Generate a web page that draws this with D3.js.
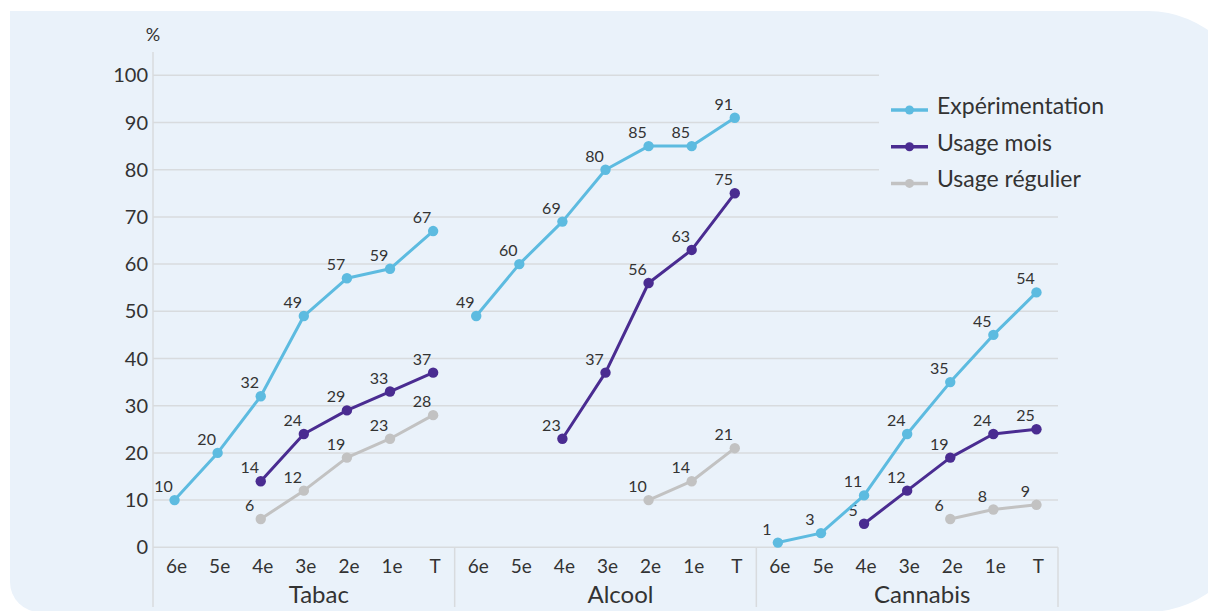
<!DOCTYPE html>
<html lang="fr">
<head>
<meta charset="utf-8">
<script src="https://cdn.jsdelivr.net/npm/d3@7"></script>
<style>
  html, body { margin: 0; padding: 0; background: #ffffff; }
  svg { display: block; font-family: Lato, "Open Sans", "Noto Sans", sans-serif; }
</style>
</head>
<body>
<svg id="chart" width="1208" height="611"></svg>
<script>
// Substances and school grades
const groups = ["Tabac", "Alcool", "Cannabis"];
const grades = ["6e", "5e", "4e", "3e", "2e", "1e", "T"];
const yTicks = [0, 10, 20, 30, 40, 50, 60, 70, 80, 90, 100];

// Percentages per substance (Tabac, Alcool, Cannabis), one value per grade
const experimentation = [
  [10, 20, 32, 49, 57, 59, 67],
  [49, 60, 69, 80, 85, 85, 91],
  [1, 3, 11, 24, 35, 45, 54]
];
const usageMois = [
  [null, null, 14, 24, 29, 33, 37],
  [null, null, 23, 37, 56, 63, 75],
  [null, null, 5, 12, 19, 24, 25]
];
const usageRegulier = [
  [null, null, 6, 12, 19, 23, 28],
  [null, null, null, null, 10, 14, 21],
  [null, null, null, null, 6, 8, 9]
];

const seriesNames = ["Expérimentation", "Usage mois", "Usage régulier"];
const seriesColors = ["#5dbbe0", "#4a2c91", "#c2c2c2"];
const seriesData = [experimentation, usageMois, usageRegulier];

const svg = d3.select("#chart");
const panelFill = "#eaf2fa";
const gridColor = "#d8dbde";
const textColor = "#333333";

// Background panel with rounded corners
const bottom = 612;
svg.append("path")
  .attr("d", `M10,11 H1148 A104,104 0 0 1 1252,115 V${bottom - 104} A104,104 0 0 1 1148,${bottom} H40 A30,30 0 0 1 10,${bottom - 30} Z`)
  .attr("fill", panelFill);

const left = 153, right = 1058, yTop = 75.3, yBottom = 547.3;

const keys = [];
groups.forEach(g => grades.forEach(c => keys.push(g + "|" + c)));
const x = d3.scaleBand().domain(keys).range([left, right]).padding(0);
const cx = k => x(k) + x.bandwidth() / 2;
const y = d3.scaleLinear().domain([0, 100]).range([yBottom, yTop]);

// Horizontal gridlines
svg.append("g").selectAll("line").data(yTicks).join("line")
  .attr("x1", left).attr("x2", right)
  .attr("y1", d => y(d)).attr("y2", d => y(d))
  .attr("stroke", gridColor).attr("stroke-width", 1.5);

// Y axis labels
svg.append("g").selectAll("text").data(yTicks).join("text")
  .attr("x", 148).attr("y", d => y(d) + 7)
  .attr("text-anchor", "end")
  .attr("font-size", 20).attr("fill", textColor)
  .text(d => d);

svg.append("text")
  .attr("x", 153).attr("y", 41)
  .attr("text-anchor", "middle")
  .attr("font-size", 18).attr("fill", textColor)
  .text("%");

// Y axis line and group separators
svg.append("line")
  .attr("x1", left).attr("x2", left).attr("y1", 52).attr("y2", 607)
  .attr("stroke", gridColor).attr("stroke-width", 1.5);
const seps = groups.map((g, i) => i === 0 ? null : x(g + "|" + grades[0])).filter(v => v != null);
seps.push(right);
svg.append("g").selectAll("line").data(seps).join("line")
  .attr("x1", d => d).attr("x2", d => d)
  .attr("y1", yBottom).attr("y2", 607)
  .attr("stroke", gridColor).attr("stroke-width", 1.5);

// Grade labels
svg.append("g").selectAll("text").data(keys).join("text")
  .attr("x", d => cx(d) + 2).attr("y", 573)
  .attr("text-anchor", "middle")
  .attr("font-size", 19).attr("fill", textColor)
  .text(d => d.split("|")[1]);

// Substance labels
svg.append("g").selectAll("text").data(groups).join("text")
  .attr("x", g => (x(g + "|" + grades[0]) + x(g + "|T") + x.bandwidth()) / 2 + 15)
  .attr("y", 603)
  .attr("text-anchor", "middle")
  .attr("font-size", 24).attr("fill", textColor)
  .text(g => g);

// Lines, points and value labels (drawn back to front)
const line = d3.line()
  .defined(d => d.v != null)
  .x(d => cx(d.k)).y(d => y(d.v));

[2, 1, 0].forEach(si => {
  const color = seriesColors[si];
  const layer = svg.append("g");
  groups.forEach((g, gi) => {
    const pts = grades.map((c, ci) => ({ k: g + "|" + c, v: seriesData[si][gi][ci] }));
    layer.append("path")
      .attr("d", line(pts))
      .attr("fill", "none")
      .attr("stroke", color)
      .attr("stroke-width", 3)
      .attr("stroke-linejoin", "round");
    const valid = pts.filter(d => d.v != null);
    layer.selectAll(null).data(valid).join("circle")
      .attr("cx", d => cx(d.k)).attr("cy", d => y(d.v))
      .attr("r", 5.2).attr("fill", color);
    layer.selectAll(null).data(valid).join("text")
      .attr("x", d => cx(d.k) - 11).attr("y", d => y(d.v) - 8)
      .attr("text-anchor", "middle")
      .attr("font-size", 16).attr("fill", textColor)
      .text(d => d.v);
  });
});

// Legend
const legend = svg.append("g");
legend.append("rect")
  .attr("x", 879).attr("y", 60).attr("width", 180).attr("height", 140)
  .attr("fill", panelFill);
const rows = legend.selectAll("g").data(seriesNames).join("g")
  .attr("transform", (d, i) => `translate(0, ${110 + i * 36.7})`);
rows.append("line")
  .attr("x1", 891).attr("x2", 928).attr("y1", 0).attr("y2", 0)
  .attr("stroke", (d, i) => seriesColors[i]).attr("stroke-width", 3.5);
rows.append("circle")
  .attr("cx", 909.5).attr("cy", 0).attr("r", 4.5)
  .attr("fill", (d, i) => seriesColors[i]);
rows.append("text")
  .attr("x", 937).attr("y", 4)
  .attr("font-size", 23).attr("fill", textColor)
  .text(d => d);
</script>
</body>
</html>
